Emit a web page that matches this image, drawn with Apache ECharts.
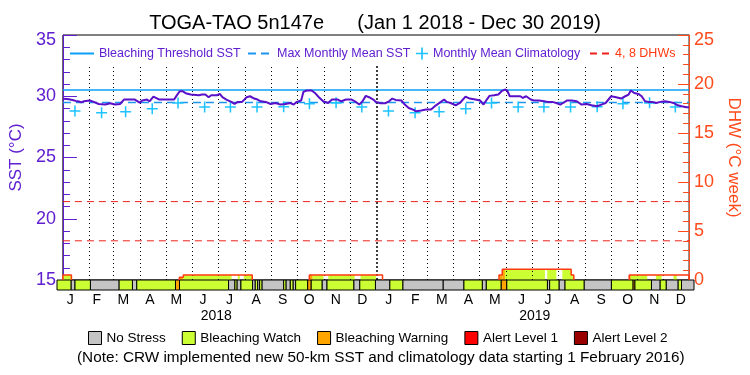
<!DOCTYPE html>
<html>
<head>
<meta charset="utf-8">
<title>TOGA-TAO 5n147e</title>
<script src="https://cdn.jsdelivr.net/npm/echarts@6/dist/echarts.min.js"></script>
<style>
  html, body { margin: 0; padding: 0; background: #fff; }
  #main { width: 750px; height: 375px; }
</style>
</head>
<body>
<div id="main"></div>
<script>
// ---- data ----
// days counted from 2018-01-01
var sstDays = [0, 5.3, 11.1, 14.9, 18.7, 21.4, 24.5, 31.3, 35.9, 41.6, 49.3, 55, 60.7, 66.5, 71.1, 83.7, 89.4, 92.4,
  97.8, 100.8, 105.4, 107.7, 112.3, 129.5, 132.2, 136, 139.1, 142.9, 148.6, 158.2, 162, 165.8, 169.6, 172.7, 179.2,
  182.6, 185.7, 190.3, 196, 199.8, 203.6, 208.6, 213.9, 217.8, 222.7, 226.6, 230.4, 236.1, 241.8, 247.6, 253.3, 259,
  264.8, 268.6, 272.4, 277.4, 280, 283.9, 289.6, 293.4, 298, 303, 308.7, 313.3, 320.1, 324, 329.7, 336.2, 340, 345,
  348.8, 352.6, 356.4, 361.4, 364.4, 369.4, 375.1, 379.7, 383.5, 387.3, 394.2, 398, 402.6, 407.6, 411.4, 417.1, 422.8,
  428.6, 434.3, 440, 443.8, 446.9, 451.5, 457.2, 462.2, 468.7, 473.6, 480.1, 485.9, 489.7, 493.5, 496.6, 501.9, 506.9,
  510.7, 514.5, 517.2, 520.2, 527.9, 532.5, 535.5, 539.3, 544.7, 548.5, 554.3, 560, 564.6, 569.6, 574.5, 579.1, 582.2,
  586.7, 592.5, 598.2, 603.9, 609.7, 615.4, 621.9, 626.9, 631.8, 638.3, 644, 649.8, 654.7, 658.6, 661.2, 665.1, 670,
  673.8, 677.7, 681.5, 686.1, 690.6, 695.6, 700.6, 705.9, 710.9, 715.8, 720.4, 725.8, 728.8];
var sstValues = [29.8, 29.78, 29.7, 29.62, 29.57, 29.5, 29.59, 29.65, 29.54, 29.37, 29.32, 29.43, 29.32, 29.37, 29.73,
  29.73, 29.48, 29.65, 29.73, 29.59, 29.97, 30.03, 29.73, 29.73, 30.03, 30.41, 30.41, 30.25, 30.14, 30.08, 30.14,
  30.14, 29.92, 30.08, 30.08, 30.19, 29.92, 29.73, 29.54, 29.37, 29.54, 29.54, 29.92, 30.0, 29.81, 29.73, 29.59, 29.54,
  29.37, 29.45, 29.32, 29.37, 29.45, 29.32, 29.54, 29.65, 30.36, 30.47, 30.47, 30.27, 29.92, 29.59, 29.45, 29.73, 29.73,
  29.59, 29.73, 29.73, 29.59, 29.32, 29.59, 30.03, 29.92, 29.73, 29.54, 29.43, 29.43, 29.59, 29.81, 29.7, 29.65, 29.32,
  29.04, 28.91, 28.77, 28.83, 28.91, 28.91, 29.26, 29.54, 29.73, 29.54, 29.45, 29.26, 29.45, 29.97, 29.81, 29.73, 29.65,
  29.32, 29.73, 30.03, 30.08, 30.14, 30.41, 30.55, 30.47, 30.0, 30.0, 30.0, 29.86, 30.0, 29.73, 29.65, 29.65, 29.59,
  29.54, 29.54, 29.45, 29.32, 29.45, 29.65, 29.65, 29.59, 29.32, 29.37, 29.26, 29.18, 29.32, 29.45, 30.0, 29.92, 29.81,
  30.0, 30.14, 30.47, 30.27, 30.19, 30.0, 29.59, 29.54, 29.54, 29.45, 29.54, 29.59, 29.54, 29.45, 29.26, 29.18, 29.1, 29.1];

var mmm = 29.5;          // Max Monthly Mean SST
var threshold = 30.52;   // Bleaching Threshold SST
var climMonthly = [28.8, 28.66, 28.73, 28.98, 29.45, 29.13, 29.13, 29.13, 29.15, 29.38, 29.46, 29.13];
var dhwLevels = [4, 8];

// status bar: start day of each segment and its level (0 none, 1 watch, 2 warning, 3 alert1, 4 alert2)
var statusStart = [0, 16.0, 20.6, 38.2, 71.1, 86.3, 91.3, 135.6, 140.2, 196.3, 203.6, 205.9, 210.5, 223.8, 226.9,
  229.6, 231.9, 234.5, 259.4, 262.0, 267.0, 270.1, 273.1, 286.9, 290.7, 303.3, 309.0, 339.6, 346.5, 364.4, 380.9,
  395.7, 442.0, 465.7, 486.7, 491.3, 508.4, 514.6, 561.2, 563.8, 574.5, 581.4, 603.2, 634.5, 659.3, 661.2, 680.3,
  690.3, 697.1, 710.9, 714.7];
var statusLevel = [1, 0, 1, 0, 1, 0, 1, 2, 1, 0, 1, 0, 1, 0, 1, 0, 1, 0, 1, 0, 1, 0, 1, 2, 1, 0, 1, 0, 1, 0, 1,
  0, 0, 1, 0, 1, 2, 1, 0, 1, 0, 1, 0, 1, 2, 1, 0, 1, 0, 1, 0];

// DHW steps: start day, end day, value
var dhwStart = [0, 135.6, 140.2, 286.9, 507.7, 511.5, 591.7, 659.3];
var dhwEnd = [9.9, 140.2, 220.4, 372.1, 511.5, 591.7, 594.8, 729];
var dhwValue = [0.5, 0.28, 0.5, 0.5, 0.5, 1.1, 0.5, 0.5];

var monthNames = ['J', 'F', 'M', 'A', 'M', 'J', 'J', 'A', 'S', 'O', 'N', 'D'];
var years = ['2018', '2019'];
var statusNames = ['No Stress', 'Bleaching Watch', 'Bleaching Warning', 'Alert Level 1', 'Alert Level 2'];
var statusColors = ['#c4c4c4', '#ccff33', '#ffa500', '#ff0000', '#990000'];

// ---- build tables ----
var DAY = 86400000;
var t0 = Date.UTC(2018, 0, 1);
var tEnd = Date.UTC(2019, 11, 31);
var totalDays = 729;
function ts(d) { return t0 + d * DAY; }

var sstData = sstDays.map(function (d, i) { return [ts(d), sstValues[i]]; });

var climData = [];
years.forEach(function (y) {
  climMonthly.forEach(function (v, m) { climData.push([Date.UTC(+y, m, 15), v]); });
});

var monthStarts = [];
years.forEach(function (y, yi) {
  for (var m = 0; m < 12; m++) {
    if (yi === 0 && m === 0) continue;
    monthStarts.push(Date.UTC(+y, m, 1));
  }
});
var monthLabels = monthNames.concat(monthNames);

var segs = statusStart.map(function (s, i) {
  var e = i + 1 < statusStart.length ? statusStart[i + 1] : totalDays;
  return [s, e, statusLevel[i]];
});

// DHW fill = dhw step intersected with the status segments
var fillData = [];
dhwStart.forEach(function (s, i) {
  segs.forEach(function (g) {
    var a = Math.max(s, g[0]), b = Math.min(dhwEnd[i], g[1]);
    if (b > a && g[2] > 0) fillData.push([ts(a), ts(b), dhwValue[i], g[2]]);
  });
});

// DHW outline as a stepped polyline
var dhwLine = [];
dhwStart.forEach(function (s, i) {
  var contPrev = i > 0 && Math.abs(dhwEnd[i - 1] - s) < 0.01;
  var contNext = i + 1 < dhwStart.length && Math.abs(dhwStart[i + 1] - dhwEnd[i]) < 0.01;
  if (!contPrev) dhwLine.push([ts(s), 0]);
  dhwLine.push([ts(s), dhwValue[i]]);
  dhwLine.push([ts(dhwEnd[i]), dhwValue[i]]);
  if (!contNext) { dhwLine.push([ts(dhwEnd[i]), 0]); dhwLine.push([ts(dhwEnd[i]), null]); }
});

// 4 and 8 DHW reference lines, broken between levels
var dhwRefLine = [];
dhwLevels.forEach(function (v) {
  dhwRefLine.push([t0, v], [tEnd, v], [tEnd, null]);
});

var purple = '#6020d0';
var orange = '#ff4a1c';
var font = "'Liberation Sans', Arial, sans-serif";

function barRender(level) {
  return function (params, api) {
    var p0 = api.coord([api.value(0), 1]);
    var p1 = api.coord([api.value(1), 0]);
    return {
      type: 'rect',
      shape: { x: p0[0], y: p0[1], width: p1[0] - p0[0], height: p1[1] - p0[1] },
      style: { fill: statusColors[level], stroke: '#000', lineWidth: 1 }
    };
  };
}

var statusSeries = statusNames.map(function (name, lv) {
  return {
    name: name,
    type: 'custom',
    xAxisIndex: 1,
    yAxisIndex: 2,
    itemStyle: { color: statusColors[lv] },
    renderItem: barRender(lv),
    encode: { x: [0, 1] },
    data: segs.filter(function (g) { return g[2] === lv; })
              .map(function (g) { return [ts(g[0]), ts(g[1])]; }),
    z: 5
  };
});

var monthLineData = monthStarts.map(function (t) {
  var yearLine = t === Date.UTC(2019, 0, 1);
  return [
    { coord: [t, 15], lineStyle: yearLine ? { type: [2, 2], width: 1.5 } : undefined },
    { coord: [t, 32.6] }
  ];
});

function topLegend(name, left, w, color, extra) {
  var l = { data: [name], left: left, top: 42, itemWidth: w, itemHeight: 14,
    textStyle: { color: color, fontSize: 12.5, fontFamily: font } };
  for (var k in extra) l[k] = extra[k];
  return l;
}

// top label of a vertical axis sits just below the frame
function axisLabelCfg(color, maxVal) {
  return {
    color: color, fontSize: 18, fontFamily: font,
    formatter: function (v) { return v === maxVal ? '{top|' + v + '}' : String(v); },
    rich: { top: { color: color, fontSize: 18, fontFamily: font, padding: [11, 0, 0, 0] } }
  };
}

var myChart = echarts.init(document.getElementById('main'));

var sstLabel = axisLabelCfg(purple, 35); sstLabel.margin = 7;
var dhwLabel = axisLabelCfg(orange, 25); dhwLabel.margin = 5;

var option = {
  animation: false,
  backgroundColor: '#fff',
  textStyle: { fontFamily: font },
  title: [
    {
      text: 'TOGA-TAO 5n147e      (Jan 1 2018 - Dec 30 2019)',
      left: 'center', top: 8,
      textStyle: { fontSize: 20, fontWeight: 'normal', color: '#000', fontFamily: font }
    },
    {
      text: '(Note: CRW implemented new 50-km SST and climatology data starting 1 February 2016)',
      left: 72, top: 345,
      textStyle: { fontSize: 15.3, fontWeight: 'normal', color: '#000', fontFamily: font }
    }
  ],
  legend: [
    topLegend('Bleaching Threshold SST', 64, 24, purple, { itemStyle: { opacity: 0 } }),
    topLegend('Max Monthly Mean SST', 242, 24, purple, { itemStyle: { opacity: 0 } }),
    topLegend('Monthly Mean Climatology', 411, 12, purple, { itemHeight: 12 }),
    topLegend('4, 8 DHWs', 584, 20, '#ff3a10', { itemStyle: { opacity: 0 } }),
    { data: statusNames, left: 83, top: 326, itemWidth: 13, itemHeight: 13, itemGap: 16, icon: 'rect',
      itemStyle: { borderColor: '#000', borderWidth: 1 },
      textStyle: { color: '#000', fontSize: 13.5, fontFamily: font } }
  ],
  grid: [
    { left: 57, right: 56, top: 35, bottom: 95, show: true, borderColor: '#000', borderWidth: 1 },
    { left: 57, right: 56, top: 280, height: 10 }
  ],
  xAxis: [
    { gridIndex: 0, type: 'time', min: t0, max: tEnd, axisLine: { show: false }, axisTick: { show: false },
      axisLabel: { show: false }, splitLine: { show: false } },
    { gridIndex: 1, type: 'time', min: t0, max: tEnd, show: false },
    { gridIndex: 1, type: 'category', data: monthLabels, position: 'bottom', boundaryGap: true,
      axisLine: { show: false }, axisTick: { show: false }, splitLine: { show: false },
      axisLabel: { interval: 0, margin: 3, fontSize: 14, color: '#000', fontFamily: font } },
    { gridIndex: 1, type: 'category', data: years, position: 'bottom', boundaryGap: true,
      axisLine: { show: false }, axisTick: { show: false }, splitLine: { show: false },
      axisLabel: { interval: 0, margin: 19, fontSize: 14, color: '#000', fontFamily: font } }
  ],
  yAxis: [
    { gridIndex: 0, type: 'value', min: 15, max: 35, interval: 5, position: 'left',
      name: 'SST (°C)', nameLocation: 'middle', nameGap: 34,
      nameTextStyle: { color: purple, fontSize: 17, fontFamily: font },
      axisLine: { show: true, lineStyle: { color: purple, width: 1 } },
      axisTick: { show: true, inside: true, length: 14, lineStyle: { color: purple } },
      minorTick: { show: true, splitNumber: 5, length: 7, lineStyle: { color: purple } },
      axisLabel: sstLabel,
      splitLine: { show: false } },
    { gridIndex: 0, type: 'value', min: 0, max: 25, interval: 5, position: 'right',
      name: 'DHW (°C week)', nameLocation: 'middle', nameGap: 30, nameRotate: -90,
      nameTextStyle: { color: orange, fontSize: 17, fontFamily: font },
      axisLine: { show: true, lineStyle: { color: orange, width: 1 } },
      axisTick: { show: true, inside: true, length: 11, lineStyle: { color: orange } },
      minorTick: { show: true, splitNumber: 5, length: 6, lineStyle: { color: orange } },
      axisLabel: dhwLabel,
      splitLine: { show: false } },
    { gridIndex: 1, type: 'value', min: 0, max: 1, show: false }
  ],
  series: [
    {
      name: 'month lines', type: 'line', data: [], silent: true,
      markLine: { silent: true, symbol: ['none', 'none'], label: { show: false },
        lineStyle: { type: [1, 3], color: '#000', width: 1 }, data: monthLineData },
      z: 1
    },
    {
      name: 'Bleaching Threshold SST', type: 'line', symbol: 'none',
      data: [[t0, threshold], [tEnd, threshold]],
      lineStyle: { color: '#0aa0f5', width: 1.5 }, itemStyle: { color: '#0aa0f5' }, z: 3
    },
    {
      name: 'Max Monthly Mean SST', type: 'line', symbol: 'none',
      data: [[t0, mmm], [tEnd, mmm]],
      lineStyle: { color: '#1e96f0', width: 1.5, type: [8, 5] }, itemStyle: { color: '#1e96f0' }, z: 3
    },
    {
      name: 'Monthly Mean Climatology', type: 'scatter',
      symbol: 'path://M4.3,0H5.7V10H4.3Z M0,4.3H10V5.7H0Z', symbolSize: 11,
      itemStyle: { color: '#1ec3ff', opacity: 1 }, data: climData, z: 4
    },
    {
      name: '4, 8 DHWs', type: 'line', yAxisIndex: 1, data: dhwRefLine, symbol: 'none', connectNulls: false,
      silent: true,
      lineStyle: { color: '#f0201a', width: 1, type: [7, 5] }, itemStyle: { color: '#f0201a' },
      z: 2
    },
    {
      name: 'SST', type: 'line', symbol: 'none', data: sstData,
      lineStyle: { color: '#5a0fc8', width: 2 }, itemStyle: { color: '#5a0fc8' }, z: 6
    },
    {
      name: 'DHW fill', type: 'custom', yAxisIndex: 1, data: fillData, encode: { x: [0, 1], y: 2 },
      renderItem: function (params, api) {
        var p0 = api.coord([api.value(0), api.value(2)]);
        var p1 = api.coord([api.value(1), 0]);
        return { type: 'rect',
          shape: { x: p0[0], y: p0[1], width: p1[0] - p0[0], height: p1[1] - p0[1] },
          style: { fill: statusColors[api.value(3)] } };
      },
      z: 4
    },
    {
      name: 'DHW', type: 'line', yAxisIndex: 1, symbol: 'none', data: dhwLine, connectNulls: false,
      lineStyle: { color: '#ff3a10', width: 1.5 }, itemStyle: { color: '#ff3a10' }, z: 5
    }
  ].concat(statusSeries)
};

if (option && typeof option === 'object') {
  myChart.setOption(option, true);
}
</script>
</body>
</html>
